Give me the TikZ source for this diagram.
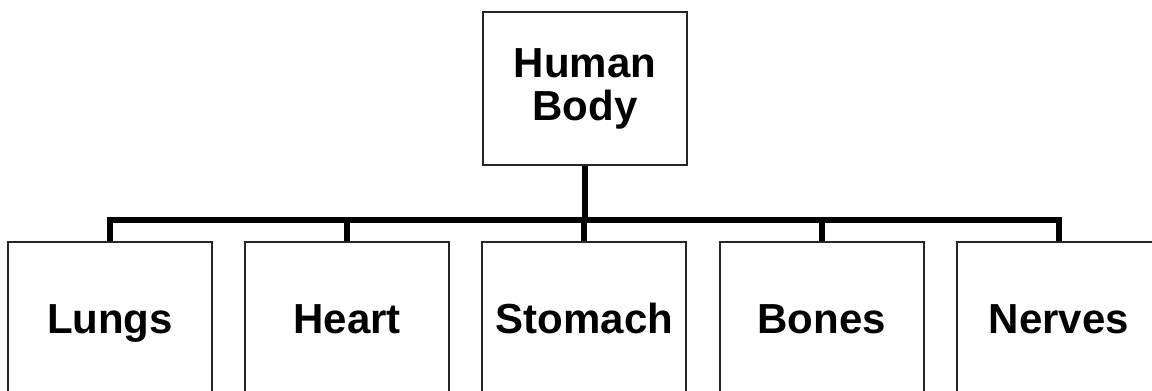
\documentclass[tikz,border=0pt]{standalone}
\usepackage{fontspec}
\setmainfont{Liberation Sans}
\usetikzlibrary{positioning}

\begin{document}
\begin{tikzpicture}[
x=0.5pt, y=-0.5pt, node distance=15.6pt, box/.style={rectangle, draw=black!85, line width=1pt, minimum width=102pt, minimum height=76pt, align=center, inner sep=0pt, font=\fontsize{21}{21.5}\selectfont\bfseries}, leaf/.style={box, text height=15pt, text depth=0pt}, link/.style={line width=3pt, black} ]
\useasboundingbox (0,0) rectangle (1152,391);
\node[box, minimum height=76.5pt] (body) at (585,88.5) {Human\\Body};
\node[leaf] (lungs) at (110,318) {Lungs};
\node[leaf, right=of lungs] (heart) {Heart};
\node[leaf, right=of heart] (stomach) {Stomach};
\node[leaf, right=of stomach] (bones) {Bones};
\node[leaf, right=of bones] (nerves) {Nerves};
\coordinate (split) at (585,220);
\draw[link] (body.south) -- (split);
\draw[link] (lungs.north) |- (split) -| (nerves.north);
\foreach \n in {heart,stomach,bones} \draw[link] (\n.north) -- (\n.north |- split);
\end{tikzpicture}
\end{document}
